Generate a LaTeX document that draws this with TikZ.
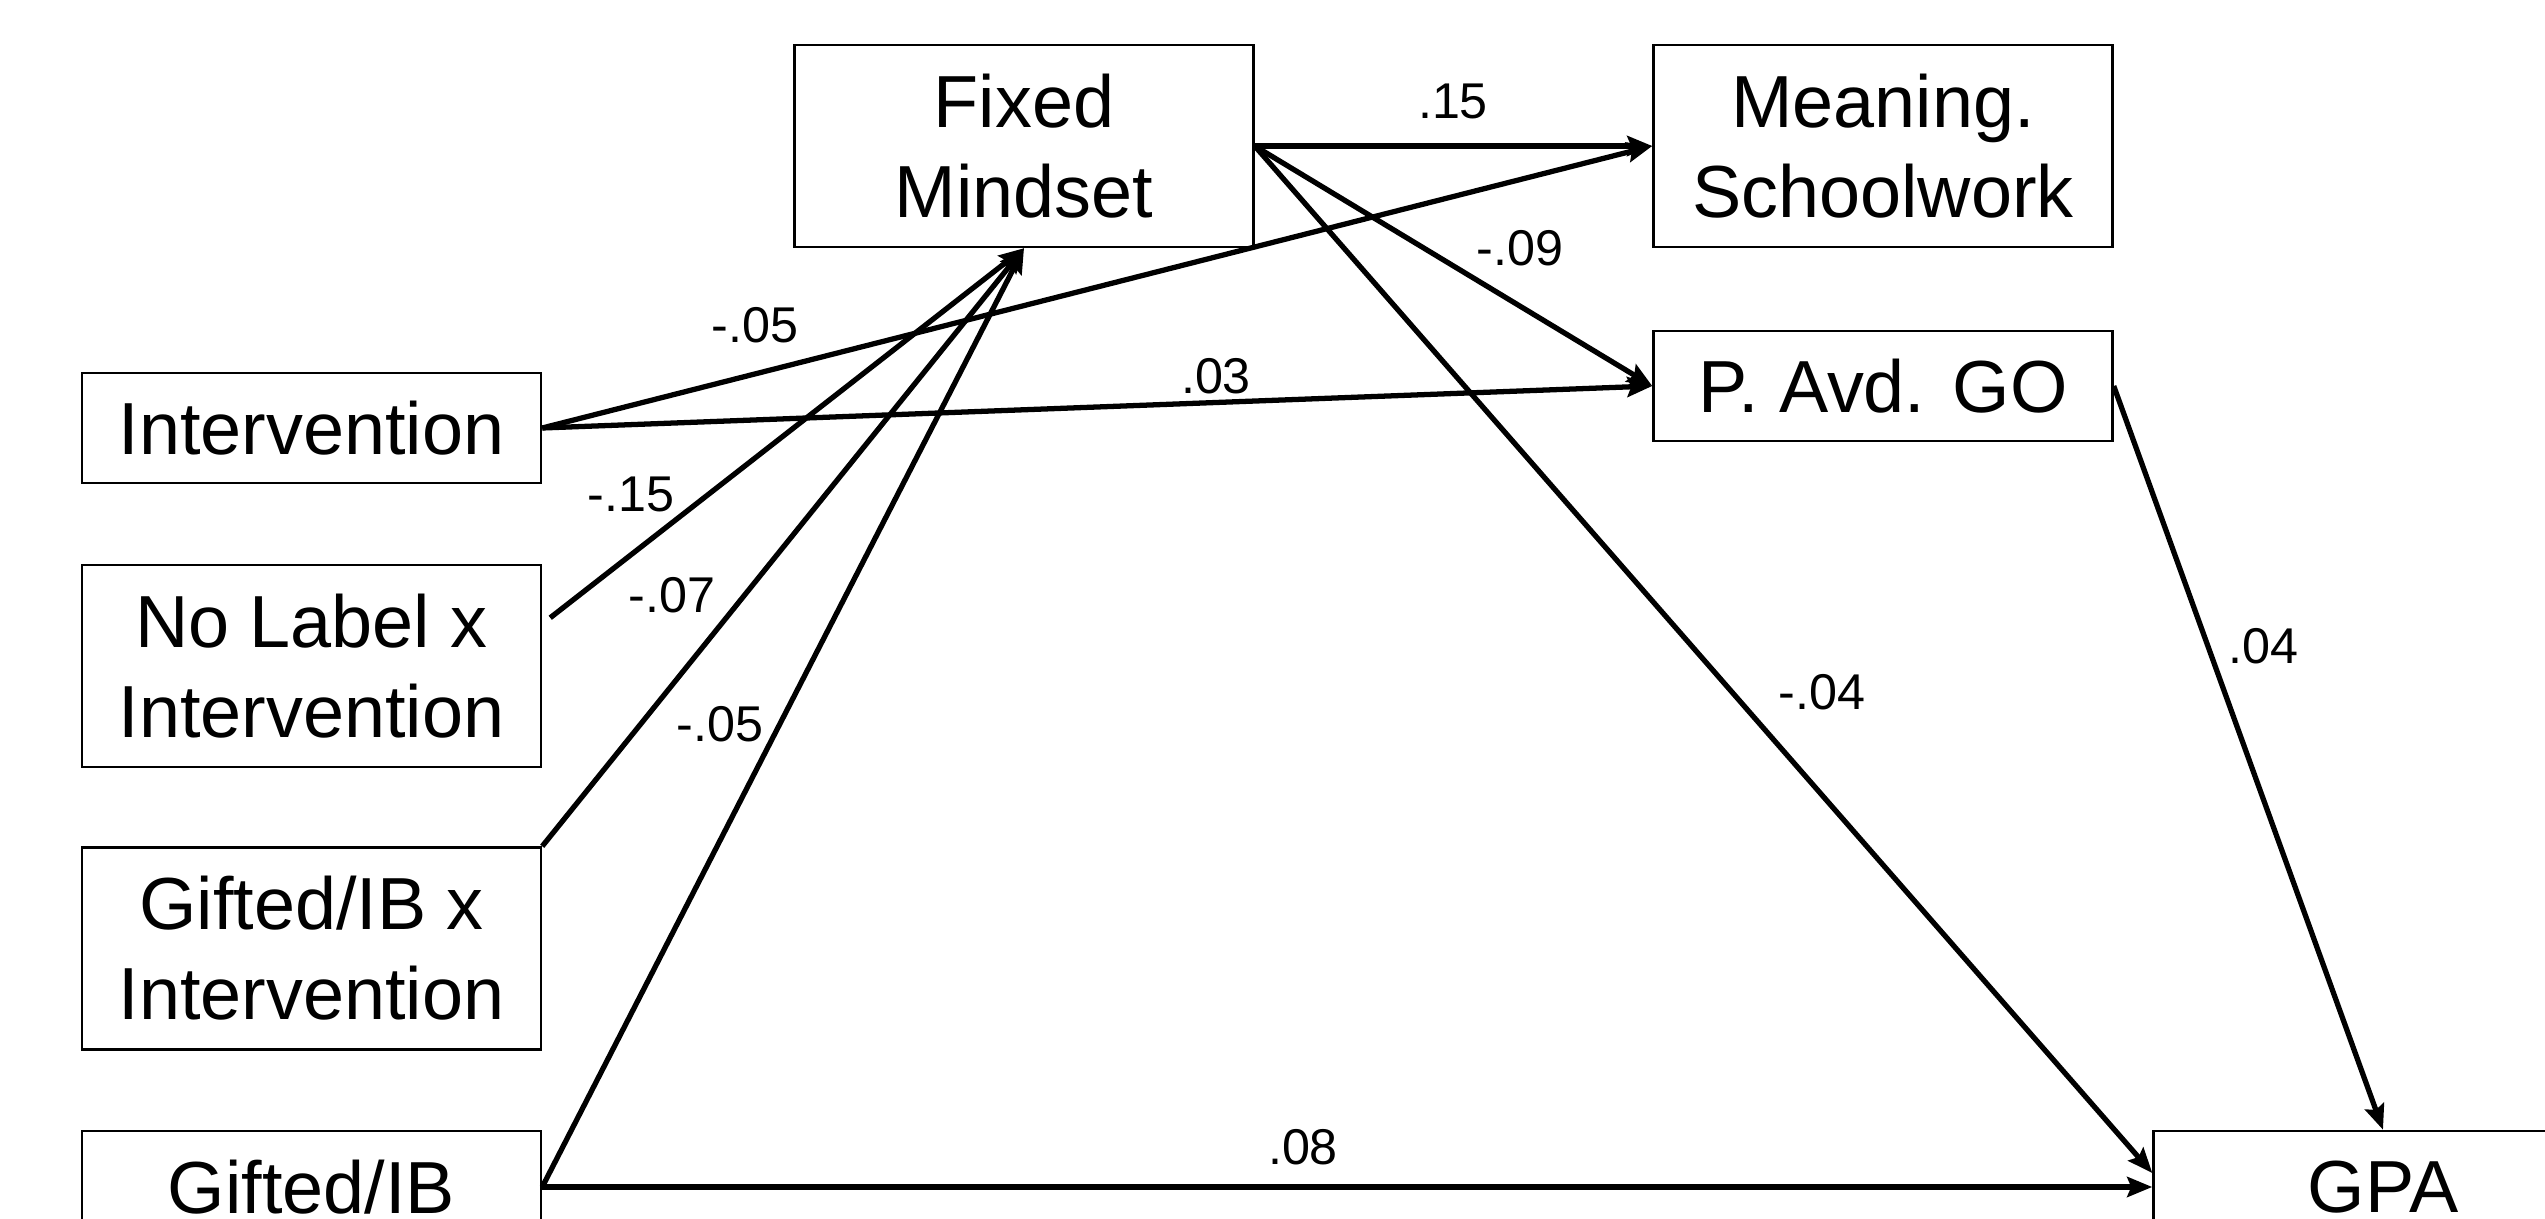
\documentclass[tikz,border=0pt]{standalone}
\usepackage{fontspec}
\setmainfont{Liberation Sans}
\usetikzlibrary{arrows.meta,calc}
\begin{document}
\begin{tikzpicture}[
  box/.style={draw=black, line width=0.7pt, minimum width=4.59cm, align=center, inner sep=0pt, font=\fontsize{21}{25.6}\selectfont},
  onebox/.style={box, minimum height=1.10cm},
  twobox/.style={box, minimum height=2.02cm},
  conn/.style={line width=1.5pt, -{Stealth[length=0.25cm,width=0.2cm,inset=0.04cm]}},
  lab/.style={font=\fontsize{14.3}{16}\selectfont, inner sep=0pt}
]
\useasboundingbox (0,0) rectangle (25.45,-12.19);

% boxes
\node[twobox] (fm)   at (10.24,-1.46) {Fixed\\Mindset};
\node[twobox] (mean) at (18.83,-1.46) {Meaning.\\Schoolwork};
\node[onebox] (pavd) at (18.83,-3.86) {P. Avd. GO};
\node[onebox, minimum height=1.12cm] (gpa) at (23.83,-11.87) {GPA};
\node[onebox] (interv) at (3.115,-4.28) {Intervention};
\node[twobox] (nolab)  at (3.115,-6.66) {No Label x\\Intervention};
\node[twobox] (gibx)   at (3.115,-9.485) {Gifted/IB x\\Intervention};
\node[onebox, minimum height=1.12cm] (gib) at (3.115,-11.87) {Gifted/IB};

\coordinate (nolabstart) at ($(nolab.north east)+(0.08,-0.54)$);
\coordinate (gpain) at ($(gpa.west)+(0,0.14)$);

% connectors
\draw[conn] (fm.east) -- (mean.west);
\draw[conn] (fm.east) -- (pavd.west);
\draw[conn] (fm.east) -- (gpain);
\draw[conn] (interv.east) -- (mean.west);
\draw[conn] (interv.east) -- (pavd.west);
\draw[conn] (nolabstart) -- (fm.south);
\draw[conn] (gibx.north east) -- (fm.south);
\draw[conn] (gib.east) -- (fm.south);
\draw[conn] (gib.east) -- (gpa.west);
\draw[conn] (pavd.east) -- (gpa.north);

% labels
\node[lab] (l1)  at (14.53,-1.01) {.15};
\node[lab] (l2)  at (15.20,-2.48) {-.09};
\node[lab] (l3)  at (18.22,-6.92) {-.04};
\node[lab] (l4)  at (22.63,-6.46) {.04};
\node[lab] (l5)  at (7.55,-3.25) {-.05};
\node[lab] (l6)  at (12.16,-3.76) {.03};
\node[lab] (l7)  at (6.31,-4.94) {-.15};
\node[lab] (l8)  at (6.72,-5.95) {-.07};
\node[lab] (l9)  at (7.20,-7.24) {-.05};
\node[lab] (l10) at (13.03,-11.47) {.08};
\end{tikzpicture}
\end{document}
